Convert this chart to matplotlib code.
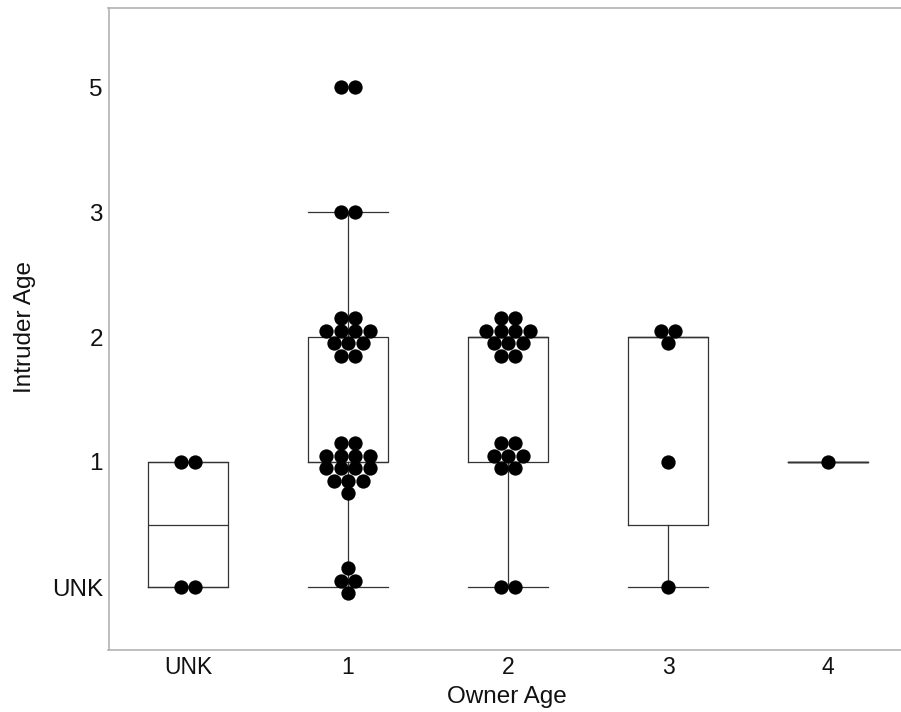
import numpy as np
import matplotlib
matplotlib.use("Agg")
import matplotlib.pyplot as plt

# category labels (owner on x, intruder on y)
owner_labels = ["UNK", "1", "2", "3", "4"]
intruder_labels = ["UNK", "1", "2", "3", "5"]

# intruder age per observation, as category index (0=UNK ... 4="5"),
# read off the picture including the small vertical spread of the dots
y_unk = [1.0, 1.0, 0.0, 0.0]
y_age1 = [4.0, 4.0, 3.0, 3.0,
          2.15, 2.15, 2.05, 2.05, 2.05, 2.05, 1.95, 1.95, 1.95, 1.85, 1.85,
          1.15, 1.15, 1.05, 1.05, 1.05, 1.05, 0.95, 0.95, 0.95, 0.95,
          0.85, 0.85, 0.85, 0.75,
          0.15, 0.05, 0.05, -0.05]
y_age2 = [2.15, 2.15, 2.05, 2.05, 2.05, 2.05, 1.95, 1.95, 1.95, 1.85, 1.85,
          1.15, 1.15, 1.05, 1.05, 1.05, 0.95, 0.95,
          0.0, 0.0]
y_age3 = [2.05, 2.05, 1.95, 1.0, 0.0]
y_age4 = [1.0]

# box statistics as drawn (category index units)
box_q1 = [0, 1, 1, 0.5, 1]
box_med = [0.5, 1, 2, 2, 1]
box_q3 = [1, 2, 2, 2, 1]
box_lo = [0, 0, 0, 0, 1]
box_hi = [1, 3, 2, 2, 1]

groups = [y_unk, y_age1, y_age2, y_age3, y_age4]

fig = plt.figure(figsize=(9.01, 7.12), dpi=100)
ax = fig.add_axes([108.5 / 901, 62 / 712, 1 - 108.5 / 901, (650 - 7.5) / 712])

stats = []
for i in range(len(owner_labels)):
    stats.append(dict(q1=box_q1[i], med=box_med[i], q3=box_q3[i],
                      whislo=box_lo[i], whishi=box_hi[i], fliers=[]))
line = dict(color="#333333", linewidth=0.9)
ax.bxp(stats, positions=range(len(owner_labels)), widths=0.5, capwidths=0.5,
       showfliers=False, boxprops=line, whiskerprops=line, capprops=line,
       medianprops=line, zorder=1)

# dots sharing a value are laid side by side, centred on the group
spacing = 0.0906
for i, ys in enumerate(groups):
    ys = np.array(ys)
    for v in np.unique(ys):
        n = np.sum(ys == v)
        offs = (np.arange(n) - (n - 1) / 2) * spacing
        ax.plot(i + offs, np.full(n, v), "o", color="black", markersize=10.3,
                markeredgewidth=0, zorder=3)

ax.set_xlim(-0.497, 4.456)
ax.set_ylim(-0.504, 4.636)
ax.set_xticks(range(len(owner_labels)))
ax.set_xticklabels(owner_labels, fontsize=16.5, family="Liberation Sans",
                   color="#111111")
ax.set_yticks(range(len(intruder_labels)))
ax.set_yticklabels(intruder_labels, fontsize=17.5, family="Liberation Sans",
                   color="#111111")
ax.tick_params(length=0)
ax.tick_params(axis="y", pad=4)
ax.tick_params(axis="x", pad=4)

for s in ["left", "top", "bottom"]:
    ax.spines[s].set_color("#b3b3b3")
    ax.spines[s].set_linewidth(1.2)
ax.spines["right"].set_visible(False)

fig.text(25 / 901, 1 - 327 / 712, "Intruder Age", rotation=90, ha="center",
         va="center", fontsize=17.5, family="Liberation Sans", color="#111111")
fig.text(507 / 901, 1 - 697 / 712, "Owner Age", ha="center", va="center",
         fontsize=17.5, family="Liberation Sans", color="#111111")

fig.savefig("out.png", dpi=100)
